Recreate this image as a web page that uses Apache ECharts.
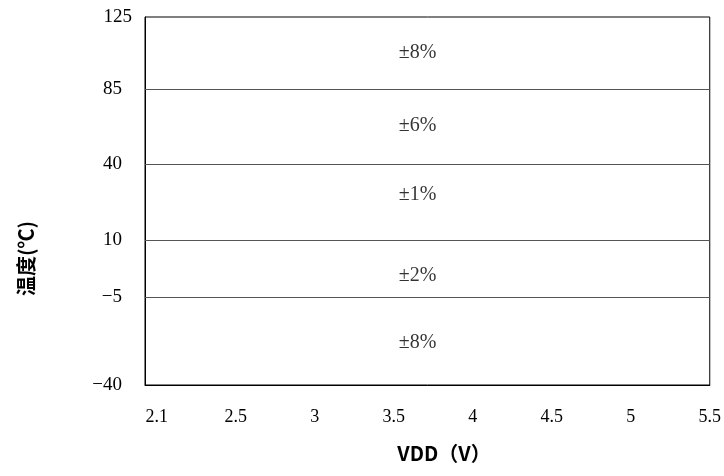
<!DOCTYPE html>
<html>
<head>
<meta charset="utf-8">
<script src="https://cdn.jsdelivr.net/npm/echarts@6/dist/echarts.min.js"></script>
<style>
  html, body { margin: 0; padding: 0; background: #fff; }
  #chart { width: 724px; height: 476px; }
</style>
</head>
<body>
<div id="chart"></div>
<script>
// Supply voltage categories along the x axis
const vddLabels = ['2.1', '2.5', '3', '3.5', '4', '4.5', '5', '5.5'];

// Temperature breakpoints on the y axis (°C) and the uneven spacing between them
const tempTicks = [-40, -5, 10, 40, 85, 125];
const tickGaps = [88, 57, 76, 75, 72];

// Accuracy bands: lower and upper temperature, the accuracy text,
// and the temperature at which each text sits inside its band
const bandLow = [-40, -5, 10, 40, 85];
const bandHigh = [-5, 10, 40, 85, 125];
const bandText = ['±8%', '±2%', '±1%', '±6%', '±8%'];
const bandTextTemp = [-23, 0.5, 28, 63, 105];

// Cumulative axis position of each temperature tick
const tickPos = [0];
tickGaps.forEach((g, i) => tickPos.push(tickPos[i] + g));

// Piecewise-linear mapping from temperature to axis position
function tempToPos(t) {
  for (let i = 0; i < tempTicks.length - 1; i++) {
    if (t <= tempTicks[i + 1]) {
      const f = (t - tempTicks[i]) / (tempTicks[i + 1] - tempTicks[i]);
      return tickPos[i] + f * (tickPos[i + 1] - tickPos[i]);
    }
  }
  return tickPos[tickPos.length - 1];
}

const boundaries = bandLow.slice(1);
const labelX = 3.3;

const chart = echarts.init(document.getElementById('chart'));
chart.setOption({
  animation: false,
  backgroundColor: '#fff',
  grid: {
    left: 145, right: 12, top: 17, bottom: 91,
    show: true, borderColor: '#000', borderWidth: 1
  },
  xAxis: {
    type: 'value',
    min: -0.15,
    max: vddLabels.length - 1,
    axisLine: { show: true, onZero: false, lineStyle: { color: '#000' } },
    axisTick: { show: false },
    splitLine: { show: false },
    axisLabel: {
      customValues: vddLabels.map((_, i) => i),
      formatter: v => vddLabels[Math.round(v)],
      margin: 23,
      color: '#000',
      fontFamily: 'Liberation Serif',
      fontSize: 18,
      showMinLabel: true,
      showMaxLabel: true
    }
  },
  yAxis: {
    type: 'value',
    min: 0,
    max: tickPos[tickPos.length - 1],
    axisLine: { show: true, onZero: false, lineStyle: { color: '#000' } },
    axisTick: { show: false },
    splitLine: { show: false },
    axisLabel: {
      customValues: tickPos.slice(),
      formatter: v => {
        const i = tickPos.findIndex(p => Math.abs(p - v) < 1e-6);
        const t = tempTicks[i];
        const txt = t < 0 ? '\u2212' + Math.abs(t) : String(t);
        return t >= 100 ? '{w|' + txt + '}' : '{n|' + txt + '}';
      },
      margin: 13,
      color: '#000',
      fontFamily: 'Liberation Serif',
      fontSize: 19,
      rich: {
        w: { fontFamily: 'Liberation Serif', fontSize: 19, color: '#000' },
        n: { fontFamily: 'Liberation Serif', fontSize: 19, color: '#000', padding: [0, 10, 0, 0] }
      }
    }
  },
  graphic: [
    {
      type: 'text',
      x: 26, y: 296,
      rotation: Math.PI / 2,
      style: {
        text: '温度(℃)',
        fill: '#000',
        font: 'bold 20px "Noto Sans CJK SC"',
        textAlign: 'left',
        textVerticalAlign: 'middle'
      }
    },
    {
      type: 'text',
      x: 444, y: 453,
      style: {
        text: 'VDD（V）',
        fill: '#000',
        font: 'bold 20px "Noto Sans CJK SC"',
        textAlign: 'center',
        textVerticalAlign: 'middle'
      }
    }
  ],
  series: [
    {
      type: 'scatter',
      symbolSize: 0,
      data: bandText.map((txt, i) => ({
        value: [labelX, tempToPos(bandTextTemp[i])],
        name: txt
      })),
      label: {
        show: true,
        position: 'inside',
        formatter: p => p.name,
        color: '#000',
        fontFamily: 'Liberation Serif',
        fontSize: 20
      },
      markLine: {
        silent: true,
        symbol: 'none',
        label: { show: false },
        lineStyle: { color: '#555', width: 1.2, type: 'solid' },
        data: boundaries.map(t => ({ yAxis: tempToPos(t) }))
      }
    }
  ]
});
</script>
</body>
</html>
